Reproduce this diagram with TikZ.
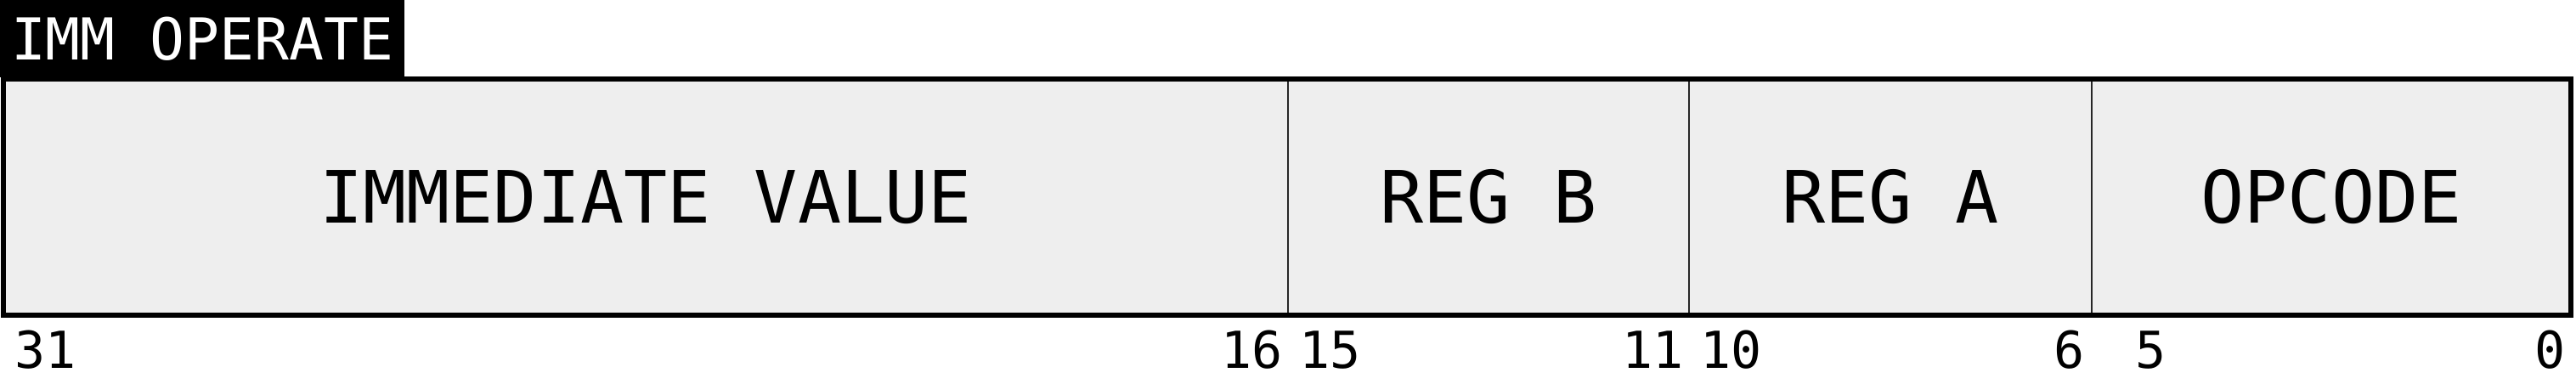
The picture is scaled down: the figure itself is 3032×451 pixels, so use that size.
\documentclass[tikz,border=0pt]{standalone}
\usepackage{fontspec}
\setmonofont{DejaVu Sans Mono}
\usetikzlibrary{positioning}

\definecolor{fieldgray}{HTML}{EEEEEE}
\tikzset{
  field/.style={draw=black!85, line width=2pt, fill=fieldgray, minimum height=278pt,
    inner sep=0pt, outer sep=0pt, anchor=west, font=\ttfamily\fontsize{85}{90}\selectfont},
  bitnum/.style={inner sep=0pt, font=\ttfamily\fontsize{60}{64}\selectfont},
  tagbox/.style={fill=black, text=white, inner xsep=13pt, inner ysep=0pt, outer sep=0pt,
    minimum height=91pt, anchor=north west, font=\ttfamily\fontsize{68}{72}\selectfont}
}

\begin{document}
\begin{tikzpicture} [x=1pt, y=1pt]
 \useasboundingbox (0,0) rectangle (3032,451);
 \node [tagbox] (title) at (0,451) {IMM OPERATE};
 \node [field, minimum width=1512pt] (imm) at (4,219) {IMMEDIATE VALUE};
 \node [field, minimum width=472pt] (regb) at (imm.east) {REG B};
 \node [field, minimum width=474pt] (rega) at (regb.east) {REG A};
 \node [field, minimum width=564pt] (op) at (rega.east) {OPCODE};
 \draw [line width=6pt] (imm.north west) rectangle (op.south east);
 \node [bitnum, anchor=base west] (b31) at (17,18) {31};
 \node [bitnum, anchor=base east] (b16) at (1510,18) {16};
 \node [bitnum, anchor=base west] (b15) at (1529,18) {15};
 \node [bitnum, anchor=base east] (b11) at (1982,18) {11};
 \node [bitnum, anchor=base west] (b10) at (2001,18) {10};
 \node [bitnum, anchor=base east] (b6) at (2454,18) {6};
 \node [bitnum, anchor=base west] (b5) at (2477,18) {\hphantom{0}5};
 \node [bitnum, anchor=base east] (b0) at (3020,18) {0};
\end{tikzpicture}
\end{document}
